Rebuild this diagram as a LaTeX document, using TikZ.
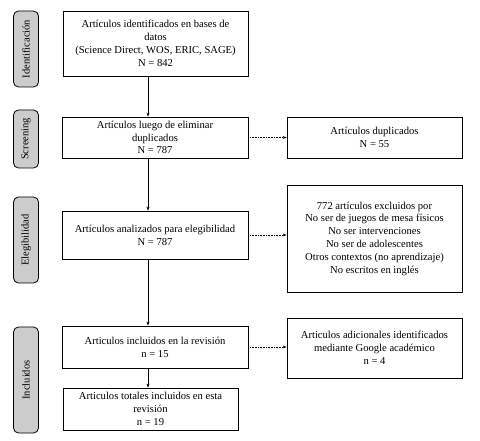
\documentclass[tikz,border=0pt]{standalone}
\usepackage{fontspec}
\setmainfont{Liberation Serif}
\usetikzlibrary{arrows.meta}
\begin{document}
\begin{tikzpicture}[x=1pt,y=-1pt,
 box/.style={draw, line width=0.8pt, align=center, font=\fontsize{10.6}{12.8}\selectfont, inner sep=0pt},
 phase/.style={draw, rounded corners=5pt, fill=gray!40, line width=0.8pt, font=\fontsize{10.5}{11}\selectfont, inner sep=0pt, rotate=90},
 arr/.style={-{Stealth[length=4pt,width=3pt]}, line width=0.6pt},
 harr/.style={arr, densely dotted}]
\useasboundingbox (0,0) rectangle (480,441);
\fill[white] (0,0) rectangle (480,441);
% phase labels
\node[phase, minimum width=76pt, minimum height=25pt] (p1) at (26,49) {Identificación};
\node[phase, minimum width=58pt, minimum height=25pt] (p2) at (26,139) {Screening};
\node[phase, minimum width=86pt, minimum height=25pt] (p3) at (26,240) {Elegibilidad};
\node[phase, minimum width=106pt, minimum height=25pt] (p4) at (26,380) {Incluidos};
% main boxes
\node[box, minimum width=185pt, minimum height=65pt] (b1) at (155.5,43.5) {Artículos identificados en bases de\\datos\\(Science Direct, WOS, ERIC, SAGE)\\N = 842};
\node[box, minimum width=186pt, minimum height=41pt] (b2) at (155,137.5) {Artículos luego de eliminar\\duplicados\\N = 787};
\node[box, minimum width=175pt, minimum height=41pt] (dup) at (374.5,137.5) {Artículos duplicados\\N = 55};
\node[box, minimum width=186pt, minimum height=48pt] (b3) at (155,235) {Artículos analizados para elegibilidad\\N = 787};
\node[box, minimum width=175pt, minimum height=107pt] (excl) at (374.5,238.5) {772 artículos excluidos por\\No ser de juegos de mesa físicos\\No ser intervenciones\\No ser de adolescentes\\Otros contextos (no aprendizaje)\\No escritos en inglés};
\node[box, minimum width=186pt, minimum height=42pt] (b4) at (155,347) {Articulos incluidos en la revisión\\n = 15};
\node[box, minimum width=175pt, minimum height=60pt] (goo) at (374.5,348) {Articulos adicionales identificados\\mediante Google académico\\n = 4};
\node[box, minimum width=175pt, minimum height=42pt] (b5) at (150.5,409) {Articulos totales incluidos en esta\\revisión\\n = 19};
% connectors
\coordinate (ax) at (148,0);
\draw[arr] (b1.south -| ax) -- (b2.north -| ax);
\draw[arr] (b2.south -| ax) -- (b3.north -| ax);
\draw[arr] (b3.south -| ax) -- (b4.north -| ax);
\draw[arr] (b4.south -| ax) -- (b5.north -| ax);
\draw[harr] (b2.east) -- (dup.west);
\draw[harr] (b3.east) -- (b3.east -| excl.west);
\draw[harr] (b4.east) -- (b4.east -| goo.west);
\end{tikzpicture}
\end{document}
